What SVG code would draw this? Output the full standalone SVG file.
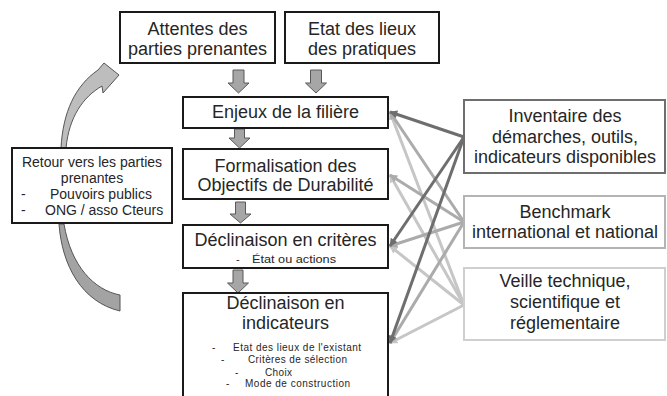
<svg xmlns="http://www.w3.org/2000/svg" width="667" height="396" viewBox="0 0 667 396">
<style>
.box{fill:#fff;stroke:#1a1a1a;stroke-width:2}
.t{font-family:"Liberation Sans",Arial,sans-serif;fill:#262626}
.big{font-size:18px;text-anchor:middle}
.mid{font-size:14px}
.sm{font-size:10px}
.blk{fill:#a6a6a6;stroke:#595959;stroke-width:1}
.c1{stroke:#6e6e6e;stroke-width:3;fill:none;marker-end:url(#m1)}
.c2{stroke:#ababab;stroke-width:3;fill:none;marker-end:url(#m2)}
.c3{stroke:#c6c6c6;stroke-width:3;fill:none;marker-end:url(#m3)}
</style>
<defs>
<marker id="m1" viewBox="0 0 10 10" refX="9" refY="5" markerWidth="9" markerHeight="8" markerUnits="userSpaceOnUse" orient="auto"><path d="M0,0 L10,5 L0,10 Z" fill="#6e6e6e"/></marker>
<marker id="m2" viewBox="0 0 10 10" refX="9" refY="5" markerWidth="9" markerHeight="8" markerUnits="userSpaceOnUse" orient="auto"><path d="M0,0 L10,5 L0,10 Z" fill="#ababab"/></marker>
<marker id="m3" viewBox="0 0 10 10" refX="9" refY="5" markerWidth="9" markerHeight="8" markerUnits="userSpaceOnUse" orient="auto"><path d="M0,0 L10,5 L0,10 Z" fill="#c6c6c6"/></marker>
</defs>
<rect width="667" height="396" fill="#fff"/>

<g id="connectors">
<line class="c3" x1="464" y1="305" x2="390" y2="112"/>
<line class="c3" x1="464" y1="305" x2="390" y2="175"/>
<line class="c3" x1="464" y1="305" x2="390" y2="246"/>
<line class="c3" x1="464" y1="305" x2="390" y2="343"/>
<line class="c2" x1="464" y1="222" x2="390" y2="112"/>
<line class="c2" x1="464" y1="222" x2="390" y2="175"/>
<line class="c2" x1="464" y1="222" x2="390" y2="246"/>
<line class="c2" x1="464" y1="222" x2="390" y2="343"/>
<line class="c1" x1="464" y1="137" x2="390" y2="112"/>
<line class="c1" x1="464" y1="137" x2="390" y2="246"/>
<line class="c1" x1="464" y1="137" x2="390" y2="343"/>
<polygon class="blk" points="233,70 244,70 244,83 249,83 238.5,93 228,83 233,83"/>
<polygon class="blk" points="310.5,70 321.5,70 321.5,83 326.5,83 316,93 305.5,83 310.5,83"/>
<polygon class="blk" points="234.5,129 244.5,129 244.5,138 250,138 239.5,148 229,138 234.5,138"/>
<polygon class="blk" points="235.5,202 245.5,202 245.5,214 251,214 240.5,223 230,214 235.5,214"/>
<polygon class="blk" points="233,270 243,270 243,283 248.5,283 238,293 227.5,283 233,283"/>
<path d="M61,148 C63,112 75,86 98,70 L104,63 L119,75 L103,93 L102,86 C83,97 69,117 66,148 Z" fill="#bdbdbd" stroke="#555" stroke-width="1"/>
<path d="M59,224 C62,266 82,302 120,311 L120,295 C94,290 71,266 64,224 Z" fill="#a3a3a3" stroke="#555" stroke-width="1"/>
</g>

<g id="attentes">
<rect class="box" x="120" y="12" width="155" height="51"/>
<text class="t big" x="197.5" y="35">Attentes des</text>
<text class="t big" x="197.5" y="55">parties prenantes</text>
</g>
<g id="etat">
<rect class="box" x="285" y="12" width="154" height="51"/>
<text class="t big" x="362" y="35">Etat des lieux</text>
<text class="t big" x="362" y="55">des pratiques</text>
</g>
<g id="enjeux">
<rect class="box" x="183" y="97" width="205" height="31"/>
<text class="t big" x="285.5" y="118">Enjeux de la filière</text>
</g>
<g id="formalisation">
<rect class="box" x="183" y="149" width="205" height="50"/>
<text class="t big" x="285.5" y="172">Formalisation des</text>
<text class="t big" x="285.5" y="191">Objectifs de Durabilité</text>
</g>
<g id="criteres">
<rect class="box" x="183" y="225" width="205" height="43"/>
<text class="t big" x="285.5" y="246">Déclinaison en critères</text>
<text class="t" x="236" y="263" font-size="11">-</text>
<text class="t" x="252" y="263" font-size="11" textLength="84" lengthAdjust="spacingAndGlyphs">État ou actions</text>
</g>
<g id="indicateurs">
<rect class="box" x="183" y="293" width="205" height="110"/>
<text class="t big" x="285.5" y="309">Déclinaison en</text>
<text class="t big" x="285.5" y="329">indicateurs</text>
<text class="t sm" x="212" y="351">-</text>
<text class="t sm" x="233" y="351" textLength="128" lengthAdjust="spacing">Etat des lieux de l'existant</text>
<text class="t sm" x="221" y="363">-</text>
<text class="t sm" x="248" y="363" textLength="99" lengthAdjust="spacing">Critères de sélection</text>
<text class="t sm" x="235" y="376">-</text>
<text class="t sm" x="265" y="376" textLength="27" lengthAdjust="spacing">Choix</text>
<text class="t sm" x="226" y="387">-</text>
<text class="t sm" x="245" y="387" textLength="105" lengthAdjust="spacing">Mode de construction</text>
</g>
<g id="retour">
<rect class="box" x="12" y="148" width="160" height="75"/>
<text class="t mid" x="92" y="167" text-anchor="middle">Retour vers les parties</text>
<text class="t mid" x="92" y="183" text-anchor="middle">prenantes</text>
<text class="t mid" x="21" y="199">-</text>
<text class="t mid" x="50" y="199">Pouvoirs publics</text>
<text class="t mid" x="21" y="215">-</text>
<text class="t mid" x="45" y="215">ONG / asso Cteurs</text>
</g>
<g id="inventaire">
<rect x="464" y="100" width="201" height="73" fill="#fff" stroke="#6e6e6e" stroke-width="2"/>
<text class="t big" x="565" y="122">Inventaire des</text>
<text class="t big" x="565" y="143">démarches, outils,</text>
<text class="t big" x="565" y="163">indicateurs disponibles</text>
</g>
<g id="benchmark">
<rect x="464" y="196" width="201" height="52" fill="#fff" stroke="#b4b4b4" stroke-width="2"/>
<text class="t big" x="565" y="218">Benchmark</text>
<text class="t big" x="565" y="238">international et national</text>
</g>
<g id="veille">
<rect x="464" y="268" width="201" height="72" fill="#fff" stroke="#cfcfcf" stroke-width="2"/>
<text class="t big" x="565" y="287">Veille technique,</text>
<text class="t big" x="565" y="308">scientifique et</text>
<text class="t big" x="565" y="329">réglementaire</text>
</g>
</svg>
